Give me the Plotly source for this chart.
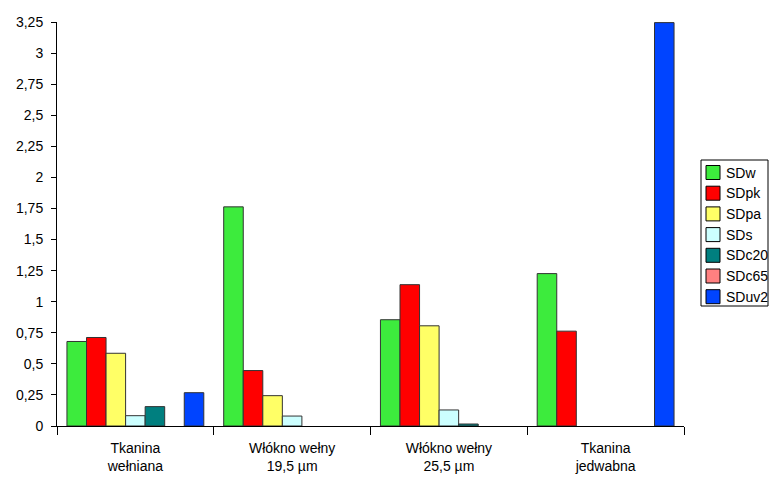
import plotly.graph_objects as go

categories = ["Tkanina<br>wełniana", "Włókno wełny<br>19,5 µm", "Włókno wełny<br>25,5 µm", "Tkanina<br>jedwabna"]

SDw = [0.68, 1.763, 0.855, 1.226]
SDpk = [0.712, 0.446, 1.137, 0.763]
SDpa = [0.585, 0.244, 0.806, None]
SDs = [0.083, 0.08, 0.129, None]
SDc20 = [0.156, None, 0.016, None]
SDc65 = [None, None, None, None]
SDuv2 = [0.268, None, None, 3.245]

series_names = ["SDw", "SDpk", "SDpa", "SDs", "SDc20", "SDc65", "SDuv2"]
series_values = [SDw, SDpk, SDpa, SDs, SDc20, SDc65, SDuv2]
series_colors = ["#3DEB3D", "#FF0000", "#FFFF66", "#CCFFFF", "#007F7F", "#FF8080", "#0044FF"]

y_tickvals = [0, 0.25, 0.5, 0.75, 1, 1.25, 1.5, 1.75, 2, 2.25, 2.5, 2.75, 3, 3.25]
y_ticktext = ["0", "0,25", "0,5", "0,75", "1", "1,25", "1,5", "1,75", "2", "2,25", "2,5", "2,75", "3", "3,25"]

# plot area in page pixels
PX0, PX1, PY0, PY1 = 57, 684, 22, 426


def px(x):
    return (x - PX0) / (PX1 - PX0)


def py(y):
    return (PY1 - y) / (PY1 - PY0)


fig = go.Figure()
for name, vals, col in zip(series_names, series_values, series_colors):
    fig.add_trace(go.Bar(
        x=categories, y=vals, name=name, showlegend=False,
        marker=dict(color=col, line=dict(color="#333333", width=1)),
    ))

# legend drawn as a boxed list to match the reference's compact legend
shapes = [dict(type="rect", xref="paper", yref="paper",
               x0=px(701), x1=px(768), y0=py(160), y1=py(306),
               line=dict(color="black", width=1), fillcolor="white", layer="above")]
annotations = []
for i, (name, col) in enumerate(zip(series_names, series_colors)):
    cy = 172.5 + 20.7 * i
    shapes.append(dict(type="rect", xref="paper", yref="paper",
                       x0=px(706), x1=px(720), y0=py(cy + 7), y1=py(cy - 7),
                       line=dict(color="black", width=1), fillcolor=col, layer="above"))
    annotations.append(dict(xref="paper", yref="paper", x=px(723.5), y=py(cy),
                            xanchor="left", yanchor="middle", text=name, showarrow=False,
                            font=dict(size=14, color="black")))

fig.update_layout(
    width=770, height=477,
    margin=dict(l=57, r=86, t=22, b=51, autoexpand=False),
    paper_bgcolor="white", plot_bgcolor="white",
    barmode="group", bargap=0.127, bargroupgap=0,
    font=dict(family="Liberation Sans, Arial, sans-serif", size=14, color="black"),
    showlegend=False,
    shapes=shapes, annotations=annotations,
    xaxis=dict(
        showline=True, linecolor="black", linewidth=1,
        ticks="outside", tickson="boundaries", ticklen=8, tickcolor="black",
        showgrid=False, tickfont=dict(size=14), ticklabelstandoff=9,
    ),
    yaxis=dict(
        range=[0, 3.25], tickvals=y_tickvals, ticktext=y_ticktext,
        showline=True, linecolor="black", linewidth=1,
        ticks="outside", ticklen=5, tickcolor="black",
        showgrid=False, zeroline=False, tickfont=dict(size=14),
        ticklabelstandoff=5,
    ),
)

fig.write_html("out.html", config={"displayModeBar": False},
               post_script="document.body.style.margin='0';document.body.style.overflow='hidden';")
